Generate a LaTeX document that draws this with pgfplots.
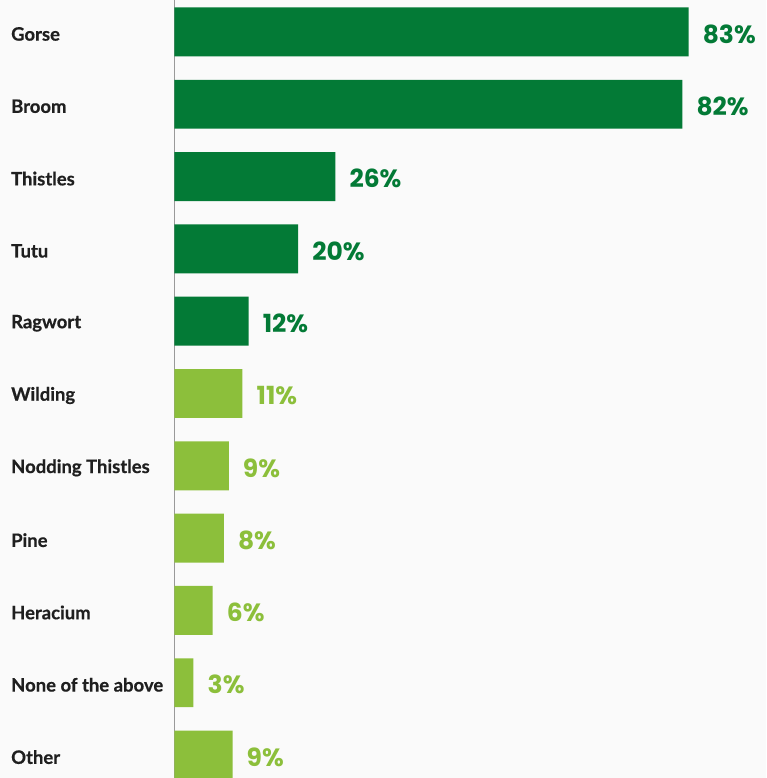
\documentclass[border=0pt]{standalone}
\usepackage{pgfplots}
\pgfplotsset{compat=1.18}
\usepackage{fontspec}
\setmainfont{Lato}
\newfontfamily\catfont{Lato}[BoldFeatures={FakeBold=0.6}]
\newfontfamily\numfont{Poppins}
\definecolor{dg}{HTML}{037A36}
\definecolor{lg}{HTML}{8CBF3B}
\definecolor{bg}{HTML}{FAFAFA}
\begin{document}
\begin{tikzpicture}[x=1pt,y=1pt]
\fill[bg] (0,0) rectangle (767,778);
\begin{axis}[
 at={(174.5pt,0pt)}, anchor=south west,
 width=592.5pt, height=778pt, scale only axis,
 xbar, bar width=49pt, bar shift=0pt,
 xmin=0, xmax=95.5, ymin=-0.435, ymax=10.31, y dir=reverse,
 axis x line=none, axis y line*=left,
 y axis line style={draw=black!40, line width=1pt},
 ytick={0,...,10},
 yticklabels={Gorse,Broom,Thistles,Tutu,Ragwort,Wilding,Nodding Thistles,Pine,Heracium,None of the above,Other},
 yticklabel style={anchor=west, xshift=-163.5pt, yshift=-2pt, inner xsep=0pt, font=\catfont\bfseries\fontsize{18.5}{20}\selectfont, text=black!88},
 major tick length=0pt,
 nodes near coords={\pgfplotspointmeta\%},
 point meta=explicit symbolic,
]
\addplot[fill=dg, draw=none, nodes near coords style={text=dg, anchor=west, xshift=14pt, yshift=-2pt, inner xsep=0pt, font=\numfont\bfseries\fontsize{25}{27}\selectfont}]
 coordinates {(83,0) [83] (82,1) [82] (26,2) [26] (20,3) [20] (12,4) [12]};
\addplot[fill=lg, draw=none, nodes near coords style={text=lg, anchor=west, xshift=14pt, yshift=-2pt, inner xsep=0pt, font=\numfont\bfseries\fontsize{25}{27}\selectfont}]
 coordinates {(11,5) [11] (8.8,6) [9] (8,7) [8] (6.2,8) [6] (3.1,9) [3] (9.4,10) [9]};
\end{axis}
\end{tikzpicture}
\end{document}
